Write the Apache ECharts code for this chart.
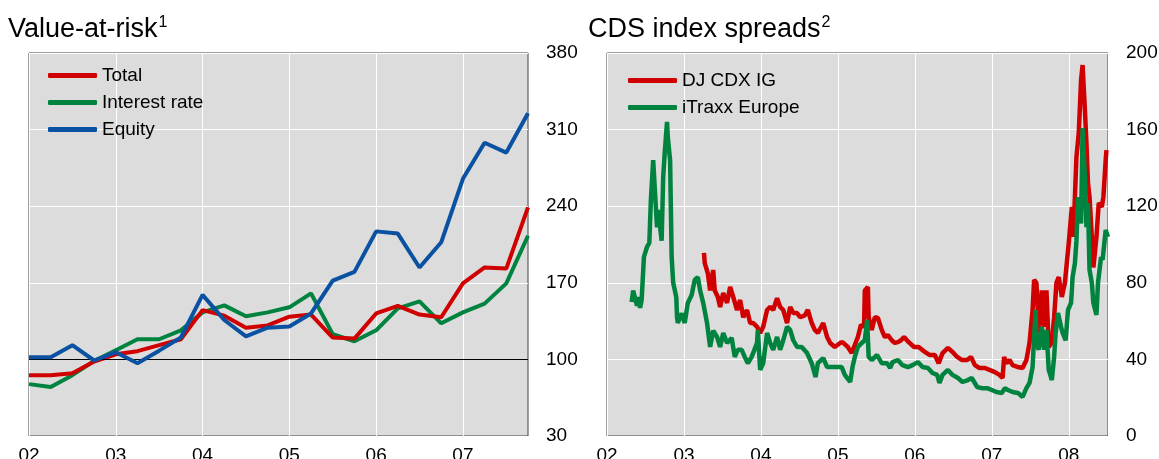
<!DOCTYPE html>
<html>
<head>
<meta charset="utf-8">
<script src="https://cdn.jsdelivr.net/npm/echarts@6/dist/echarts.min.js"></script>
<style>
  html, body { margin: 0; padding: 0; background: #fff; }
  #chart { width: 1159px; height: 459px; }
</style>
</head>
<body>
<div id="chart"></div>
<script>
// Value-at-risk, quarterly
const varQuarters = [
  '2002Q1', '2002Q2', '2002Q3', '2002Q4', '2003Q1', '2003Q2', '2003Q3', '2003Q4',
  '2004Q1', '2004Q2', '2004Q3', '2004Q4', '2005Q1', '2005Q2', '2005Q3', '2005Q4',
  '2006Q1', '2006Q2', '2006Q3', '2006Q4', '2007Q1', '2007Q2', '2007Q3', '2007Q4'
]
const varTotal = [85.6, 85.6, 87.4, 98, 104.7, 107.5, 113, 118.4, 145, 140, 129, 131, 139, 141, 120, 119, 142, 149, 141, 138.5, 169.5, 184, 183, 239]
const varRate = [77.4, 74.7, 85.6, 98.4, 108.4, 118.4, 118.4, 126.6, 143, 149.4, 139.4, 143, 147.6, 160.3, 123, 116.6, 126.6, 146.7, 153, 133, 143, 151, 169.5, 213]
const varEquity = [102, 102, 113, 99, 106.6, 96.5, 108, 120, 159, 136, 121, 129, 130, 142, 172, 180, 217, 215, 184, 207, 265, 298, 289, 325]
const varTicks = [30, 100, 170, 240, 310, 380]

// CDS index spreads (decimal years / basis points)
const cdxDates = [
  2003.26, 2003.27, 2003.31, 2003.34, 2003.38, 2003.40, 2003.44, 2003.47, 2003.51, 2003.56,
  2003.60, 2003.64, 2003.69, 2003.73, 2003.77, 2003.82, 2003.86, 2003.90, 2003.95, 2003.99,
  2004.03, 2004.08, 2004.12, 2004.16, 2004.21, 2004.25, 2004.29, 2004.34, 2004.38, 2004.42,
  2004.47, 2004.51, 2004.57, 2004.61, 2004.66, 2004.70, 2004.74, 2004.81, 2004.86, 2004.90,
  2004.96, 2005.03, 2005.06, 2005.13, 2005.18, 2005.21, 2005.26, 2005.30, 2005.34, 2005.35,
  2005.39, 2005.40, 2005.44, 2005.48, 2005.52, 2005.57, 2005.61, 2005.65, 2005.70, 2005.74,
  2005.78, 2005.82, 2005.86, 2005.92, 2005.99, 2006.05, 2006.13, 2006.19, 2006.26, 2006.31,
  2006.36, 2006.43, 2006.49, 2006.55, 2006.61, 2006.68, 2006.73, 2006.78, 2006.84, 2006.91,
  2006.97, 2007.04, 2007.10, 2007.14, 2007.16, 2007.19, 2007.23, 2007.27, 2007.34, 2007.40,
  2007.45, 2007.49, 2007.53, 2007.55, 2007.58, 2007.61, 2007.65, 2007.68, 2007.71, 2007.74,
  2007.78, 2007.81, 2007.84, 2007.87, 2007.91, 2007.95, 2007.97, 2008.00, 2008.04, 2008.06,
  2008.10, 2008.13, 2008.16, 2008.18, 2008.21, 2008.23, 2008.25, 2008.27, 2008.30, 2008.32,
  2008.36, 2008.39, 2008.43, 2008.45, 2008.48, 2008.49
]
const cdxValues = [
  95.6, 90.3, 85, 76, 86.7, 76, 72.6, 67.4, 74.7, 69.5,
  77.8, 72.6, 65.8, 71, 62, 65.8, 59, 59, 57, 53.8,
  57, 65.8, 67.4, 65.8, 72, 67.4, 65.8, 59, 67.4, 64.2,
  64.2, 62, 63, 65.8, 59, 55.4, 53.8, 59, 51.7, 48.6,
  46.5, 48.6, 49, 46.5, 43.3, 46.5, 51.7, 58, 57, 76,
  77.8, 62, 55.4, 62, 61.6, 55.4, 51.7, 52.7, 50, 48.6,
  49, 50, 51.7, 49, 46.5, 46.5, 43.9, 42.3, 42.3, 38,
  43.3, 46, 43.9, 41.3, 39.7, 39.7, 41.3, 37, 35.5, 35.5,
  34.5, 33.4, 31.9, 30.3, 41.3, 38, 39.7, 37, 36, 35.5,
  39.7, 48.6, 65.8, 81.5, 80, 53.8, 76, 57, 76, 46.5,
  48.6, 62, 80, 83, 72.6, 80, 80, 100.8, 119.6, 104,
  145.7, 158.2, 186, 193.7, 170, 153, 132, 124.8, 104, 88,
  104, 121.7, 119.6, 124.8, 144, 149.3
]
const itraxxDates = [
  2002.32, 2002.34, 2002.36, 2002.39, 2002.40, 2002.43, 2002.45, 2002.48, 2002.52, 2002.55,
  2002.57, 2002.60, 2002.62, 2002.65, 2002.66, 2002.69, 2002.71, 2002.73, 2002.75, 2002.78,
  2002.79, 2002.82, 2002.84, 2002.86, 2002.90, 2002.91, 2002.92, 2002.97, 2003.01, 2003.05,
  2003.10, 2003.14, 2003.18, 2003.21, 2003.25, 2003.30, 2003.34, 2003.38, 2003.43, 2003.47,
  2003.51, 2003.56, 2003.62, 2003.66, 2003.70, 2003.75, 2003.79, 2003.83, 2003.88, 2003.95,
  2003.96, 2003.99, 2004.03, 2004.08, 2004.12, 2004.16, 2004.21, 2004.25, 2004.29, 2004.34,
  2004.38, 2004.42, 2004.47, 2004.53, 2004.60, 2004.66, 2004.71, 2004.74, 2004.81, 2004.86,
  2004.92, 2004.99, 2005.05, 2005.09, 2005.16, 2005.19, 2005.22, 2005.26, 2005.31, 2005.35,
  2005.38, 2005.40, 2005.44, 2005.51, 2005.57, 2005.64, 2005.68, 2005.71, 2005.78, 2005.84,
  2005.91, 2005.97, 2006.04, 2006.10, 2006.17, 2006.23, 2006.29, 2006.32, 2006.36, 2006.43,
  2006.49, 2006.56, 2006.62, 2006.69, 2006.74, 2006.81, 2006.87, 2006.94, 2007.00, 2007.06,
  2007.13, 2007.17, 2007.21, 2007.27, 2007.34, 2007.40, 2007.45, 2007.49, 2007.53, 2007.55,
  2007.57, 2007.58, 2007.61, 2007.65, 2007.68, 2007.71, 2007.74, 2007.78, 2007.81, 2007.83,
  2007.86, 2007.90, 2007.92, 2007.96, 2007.99, 2008.03, 2008.05, 2008.08, 2008.10, 2008.12,
  2008.16, 2008.18, 2008.21, 2008.23, 2008.25, 2008.27, 2008.30, 2008.32, 2008.36, 2008.38,
  2008.42, 2008.44, 2008.48, 2008.51
]
const itraxxValues = [
  70, 76, 77, 68, 72.6, 67, 71, 93.5, 98.7, 100.8,
  123, 144, 143, 109, 118, 109, 102, 135, 148, 164,
  156, 144, 93.5, 80, 72.6, 62, 59, 64, 59, 69.5,
  73.6, 81.5, 83, 76, 69.5, 59, 46.5, 55, 51.7, 46.5,
  53.8, 48.6, 51.2, 41.3, 45, 45, 41.3, 38, 41.3, 48.6,
  55.4, 34.5, 38, 53.8, 48.6, 45, 51.7, 45, 50, 57,
  55.4, 50, 46.5, 46.5, 43.3, 38, 30.8, 38, 40.7, 36,
  36, 36, 36, 31.9, 28.2, 36, 41.3, 46.5, 48.6, 50,
  60.6, 41.3, 39.7, 42.3, 38, 38, 35.5, 38.6, 39.7, 37,
  36, 37, 38.6, 36, 35.5, 32.9, 31.9, 27.7, 31.9, 34.5,
  31.9, 30.3, 28.2, 29.2, 30.3, 25.6, 25, 25, 24, 23,
  22.5, 25, 24, 23, 22.5, 20.4, 25, 27.7, 36, 51.7,
  65.8, 48.6, 45, 57, 45, 55.4, 34.5, 29.2, 41.3, 53.8,
  64.2, 57, 53.8, 50, 65.8, 69.5, 83, 90.3, 102, 124.8,
  111, 160.8, 135, 109, 121.7, 86.7, 80, 69.5, 63.2, 80,
  93.5, 92, 107.6, 104
]

const FONT = 'Arial, "Liberation Sans", sans-serif'
const RED = '#d00000'
const GREEN = '#00833e'
const BLUE = '#0a52a1'

const chart = echarts.init(document.getElementById('chart'))

const titleRich = {
  t: { fontSize: 27, fontFamily: FONT, fontWeight: 'normal', color: '#000', lineHeight: 30 },
  s: { fontSize: 16, fontFamily: FONT, fontWeight: 'normal', color: '#000', verticalAlign: 'top', lineHeight: 30, padding: [0, 0, 10, 1] }
}

const gridBase = {
  show: true,
  backgroundColor: '#dcdcdc',
  borderColor: '#404040',
  borderWidth: 1,
  top: 53,
  bottom: 23,
  outerBoundsMode: 'none',
  containLabel: false
}

const axisLabelStyle = { color: '#000', fontSize: 19, fontFamily: FONT }
const legendText = { fontSize: 19, color: '#000', fontFamily: FONT, lineHeight: 21 }

const option = {
  animation: false,
  textStyle: { fontFamily: FONT },
  title: [
    { text: '{t|Value-at-risk}{s|1}', left: 3, top: 10, textStyle: { fontWeight: 'normal', rich: titleRich } },
    { text: '{t|CDS index spreads}{s|2}', left: 583, top: 10, textStyle: { fontWeight: 'normal', rich: titleRich } }
  ],
  legend: [
    {
      data: ['Total', 'Interest rate', 'Equity'],
      orient: 'vertical',
      left: 48,
      top: 65,
      padding: 0,
      itemWidth: 49,
      itemHeight: 5,
      itemGap: 6,
      icon: 'roundRect',
      textStyle: legendText
    },
    {
      data: ['DJ CDX IG', 'iTraxx Europe'],
      orient: 'vertical',
      left: 628,
      top: 70,
      padding: 0,
      itemWidth: 49,
      itemHeight: 5,
      itemGap: 6,
      icon: 'roundRect',
      textStyle: legendText
    }
  ],
  grid: [
    Object.assign({}, gridBase, { left: 29, right: 631 }),
    Object.assign({}, gridBase, { left: 607, right: 51 })
  ],
  xAxis: [
    {
      gridIndex: 0,
      type: 'category',
      data: varQuarters,
      boundaryGap: false,
      axisLine: { show: false },
      axisTick: { show: false },
      axisLabel: Object.assign({}, axisLabelStyle, {
        interval: 3,
        margin: 10,
        formatter: v => v.slice(2, 4)
      }),
      splitLine: { show: true, interval: 3, lineStyle: { color: '#fff', width: 1 } }
    },
    {
      gridIndex: 1,
      type: 'value',
      min: 2002,
      max: 2008.51,
      interval: 1,
      axisLine: { show: false },
      axisTick: { show: false },
      axisLabel: Object.assign({}, axisLabelStyle, {
        margin: 10,
        showMaxLabel: false,
        formatter: v => String(Math.round(v)).slice(2)
      }),
      splitLine: { show: true, lineStyle: { color: '#fff', width: 1 } }
    }
  ],
  yAxis: [
    {
      gridIndex: 0,
      type: 'value',
      position: 'right',
      min: varTicks[0],
      max: varTicks[varTicks.length - 1],
      interval: 70,
      axisLine: { show: false },
      axisTick: { show: false },
      axisLabel: Object.assign({}, axisLabelStyle, { margin: 18 }),
      splitLine: { show: true, lineStyle: { color: '#fff', width: 1 } }
    },
    {
      gridIndex: 1,
      type: 'value',
      position: 'right',
      min: 0,
      max: 200,
      interval: 40,
      axisLine: { show: false },
      axisTick: { show: false },
      axisLabel: Object.assign({}, axisLabelStyle, { margin: 18 }),
      splitLine: { show: true, lineStyle: { color: '#fff', width: 1 } }
    }
  ],
  series: [
    {
      name: 'Total', type: 'line', xAxisIndex: 0, yAxisIndex: 0,
      data: varTotal, symbol: 'none', z: 4,
      lineStyle: { color: RED, width: 4 }, itemStyle: { color: RED },
      markLine: {
        silent: true, symbol: 'none', label: { show: false },
        lineStyle: { color: '#000', width: 1, type: 'solid' },
        data: [{ yAxis: 100 }]
      }
    },
    {
      name: 'Interest rate', type: 'line', xAxisIndex: 0, yAxisIndex: 0,
      data: varRate, symbol: 'none', z: 3,
      lineStyle: { color: GREEN, width: 4 }, itemStyle: { color: GREEN }
    },
    {
      name: 'Equity', type: 'line', xAxisIndex: 0, yAxisIndex: 0,
      data: varEquity, symbol: 'none', z: 5,
      lineStyle: { color: BLUE, width: 4 }, itemStyle: { color: BLUE }
    },
    {
      name: 'DJ CDX IG', type: 'line', xAxisIndex: 1, yAxisIndex: 1,
      data: cdxDates.map((d, i) => [d, cdxValues[i]]), symbol: 'none', z: 3,
      lineStyle: { color: RED, width: 4.5 }, itemStyle: { color: RED }
    },
    {
      name: 'iTraxx Europe', type: 'line', xAxisIndex: 1, yAxisIndex: 1,
      data: itraxxDates.map((d, i) => [d, itraxxValues[i]]), symbol: 'none', z: 4,
      lineStyle: { color: GREEN, width: 4.5 }, itemStyle: { color: GREEN }
    }
  ]
}

chart.setOption(option)
</script>
</body>
</html>
